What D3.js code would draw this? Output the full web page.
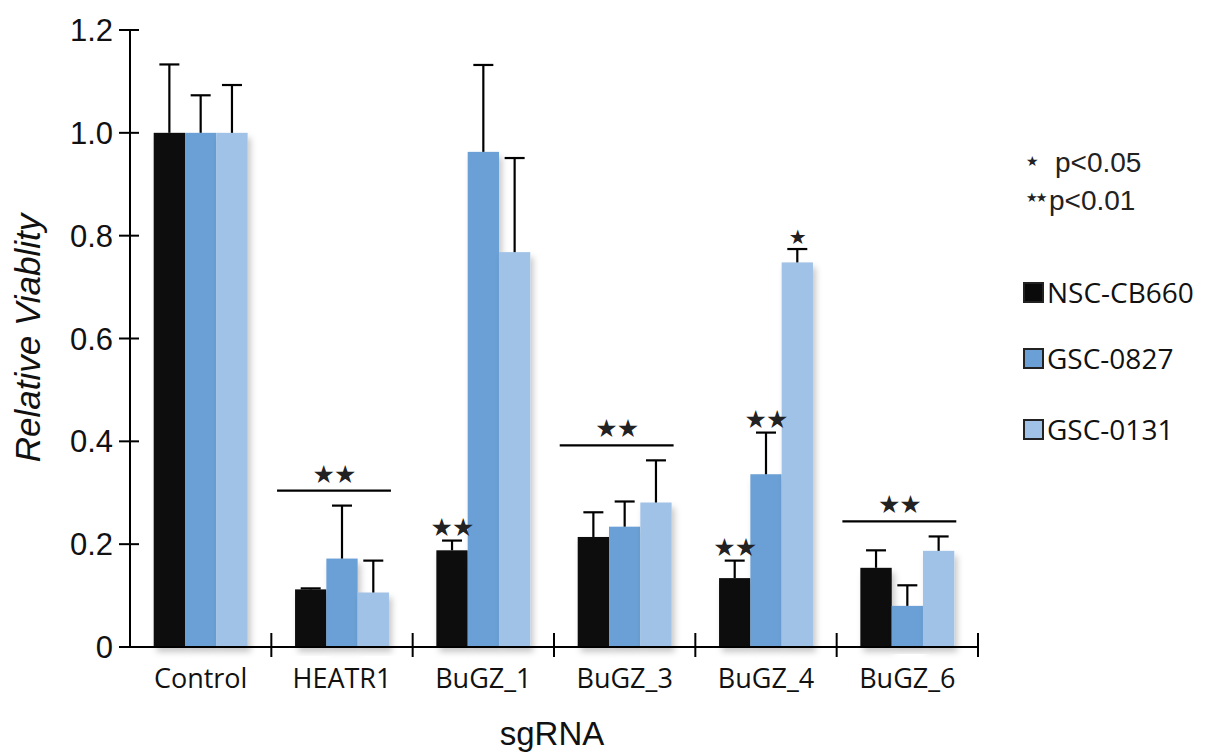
<!DOCTYPE html>
<html><head><meta charset="utf-8">
<script src="https://cdn.jsdelivr.net/npm/d3@7"></script>
<style>body{margin:0;background:#fff}svg{display:block}</style>
</head><body><svg id="c" width="1208" height="755"></svg>
<script>
const categories = ["Control","HEATR1","BuGZ_1","BuGZ_3","BuGZ_4","BuGZ_6"];
const seriesNames = ["NSC-CB660","GSC-0827","GSC-0131"];
const seriesColors = ["#0a0a0a","#6aa0d5","#a0c2e6"];
const valNSC  = [1.0, 0.112, 0.188, 0.214, 0.134, 0.154];
const valG0827 = [1.0, 0.172, 0.963, 0.234, 0.336, 0.080];
const valG0131 = [1.0, 0.106, 0.768, 0.281, 0.748, 0.187];
const errNSC  = [0.133, 0.002, 0.019, 0.048, 0.034, 0.034];
const errG0827 = [0.073, 0.103, 0.169, 0.049, 0.081, 0.040];
const errG0131 = [0.093, 0.062, 0.183, 0.082, 0.026, 0.028];
const yTicks = [0, 0.2, 0.4, 0.6, 0.8, 1.0, 1.2];
// group-wide significance (category index, stars)
const groupSig = [{cat:1, stars:"★★"}, {cat:3, stars:"★★"}, {cat:5, stars:"★★"}];
// single-bar significance (category, series, stars)
const barSig = [{cat:2, s:0, stars:"★★"}, {cat:4, s:0, stars:"★★"}, {cat:4, s:1, stars:"★★"}, {cat:4, s:2, stars:"★"}];

const values = [valNSC, valG0827, valG0131];
const errors = [errNSC, errG0827, errG0131];

const svg = d3.select("#c");
const defs = svg.append("defs");
const f = defs.append("filter").attr("id","sh").attr("x","-20%").attr("y","-5%").attr("width","150%").attr("height","120%");
f.append("feDropShadow").attr("dx",3).attr("dy",5).attr("stdDeviation",3).attr("flood-color","#000").attr("flood-opacity",0.22);

const x0 = 130, x1 = 978;
const y = d3.scaleLinear().domain([0,1.2]).range([647,30]);
const x = d3.scaleBand().domain(categories).range([x0,x1]).padding(0);
const barW = 31.3;
const xs = d3.scaleBand().domain(d3.range(3)).range([0, barW*3]);
const groupOff = (x.bandwidth() - barW*3)/2;

const bars = svg.append("g");
categories.forEach((c,ci)=>{
  seriesNames.forEach((s,si)=>{
    const bx = x(c)+groupOff+xs(si);
    const v = values[si][ci];
    bars.append("rect").attr("x",bx).attr("y",y(v)).attr("width",xs.bandwidth()).attr("height",y(0)-y(v))
      .attr("fill",seriesColors[si]).attr("filter","url(#sh)");
  });
});
// error bars
const eg = svg.append("g").attr("stroke","#000").attr("stroke-width",2.2);
categories.forEach((c,ci)=>{
  seriesNames.forEach((s,si)=>{
    const cx = x(c)+groupOff+xs(si)+xs.bandwidth()/2;
    const v = values[si][ci], e = errors[si][ci];
    eg.append("line").attr("x1",cx).attr("x2",cx).attr("y1",y(v)).attr("y2",y(v+e));
    eg.append("line").attr("x1",cx-10).attr("x2",cx+10).attr("y1",y(v+e)).attr("y2",y(v+e));
  });
});

// axes
const yAxis = svg.append("g");
yAxis.append("line").attr("x1",x0).attr("x2",x0).attr("y1",y(1.2)).attr("y2",y(0)).attr("stroke","#000").attr("stroke-width",2);
yTicks.forEach(t=>{
  yAxis.append("line").attr("x1",x0-11).attr("x2",x0+9).attr("y1",y(t)).attr("y2",y(t)).attr("stroke","#000").attr("stroke-width",2);
  yAxis.append("text").attr("x",x0-17).attr("y",y(t)).attr("dy","0.36em").attr("text-anchor","end")
    .attr("font-family","Liberation Sans, Arial, sans-serif").attr("font-size",31).attr("fill","#111")
    .text(t===0?"0":d3.format(".1f")(t));
});
const xAxis = svg.append("g");
xAxis.append("line").attr("x1",x0-11).attr("x2",x1).attr("y1",y(0)).attr("y2",y(0)).attr("stroke","#000").attr("stroke-width",2);
categories.forEach((c,ci)=>{
  xAxis.append("line").attr("x1",x(c)+x.bandwidth()).attr("x2",x(c)+x.bandwidth()).attr("y1",y(0)-14).attr("y2",y(0)+10).attr("stroke","#000").attr("stroke-width",2);
  xAxis.append("text").attr("x",x(c)+x.bandwidth()/2).attr("y",688).attr("text-anchor","middle")
    .attr("font-family","Open Sans, sans-serif").attr("font-size",27).attr("fill","#111").text(c);
});

// axis titles
svg.append("text").attr("transform","translate(40,338) rotate(-90)").attr("text-anchor","middle")
  .attr("font-family","Liberation Sans, Arial, sans-serif").attr("font-style","italic").attr("font-size",35).attr("fill","#111").text("Relative Viablity");
svg.append("text").attr("x",552).attr("y",745).attr("text-anchor","middle")
  .attr("font-family","Liberation Sans, Arial, sans-serif").attr("font-size",33).attr("fill","#111").text("sgRNA");

// significance
const sg = svg.append("g");
const starFont = "DejaVu Sans, sans-serif";
groupSig.forEach(g=>{
  const c = categories[g.cat];
  const maxTop = d3.max(d3.range(3), si=>values[si][g.cat]+errors[si][g.cat]);
  const ly = y(maxTop)-15;
  const lx1 = x(c)+groupOff-18, lx2 = x(c)+groupOff+barW*3+2;
  sg.append("line").attr("x1",lx1).attr("x2",lx2).attr("y1",ly).attr("y2",ly).attr("stroke","#000").attr("stroke-width",2.2);
  sg.append("text").attr("x",(lx1+lx2)/2).attr("y",ly-8).attr("text-anchor","middle")
    .attr("font-family",starFont).attr("font-size",25).attr("fill","#222").attr("letter-spacing",-1).text(g.stars);
});
barSig.forEach(b=>{
  const c = categories[b.cat];
  const cx = x(c)+groupOff+xs(b.s)+xs.bandwidth()/2;
  const top = values[b.s][b.cat]+errors[b.s][b.cat];
  sg.append("text").attr("x",cx).attr("y",y(top)-5).attr("text-anchor","middle")
    .attr("font-family",starFont).attr("font-size",b.stars.length>1?25:20).attr("fill","#222").attr("letter-spacing",-1).text(b.stars);
});

// legend
const lg = svg.append("g").attr("font-family","Liberation Sans, Arial, sans-serif").attr("fill","#222");
lg.append("text").attr("x",1026).attr("y",166).attr("font-size",14).attr("font-family",starFont).text("★");
lg.append("text").attr("x",1055).attr("y",172).attr("font-size",28).text("p<0.05");
lg.append("text").attr("x",1026).attr("y",202).attr("font-size",13).attr("font-family",starFont).attr("letter-spacing",-2).text("★★");
lg.append("text").attr("x",1049).attr("y",210).attr("font-size",28).text("p<0.01");
const legY = [293, 359, 430];
seriesNames.forEach((s,i)=>{
  lg.append("rect").attr("x",1024).attr("y",legY[i]-10).attr("width",19).attr("height",19)
    .attr("fill",seriesColors[i]).attr("stroke","#222").attr("stroke-width",2);
  lg.append("text").attr("x",1047).attr("y",legY[i]).attr("dy","0.36em").attr("font-family","Open Sans, sans-serif").attr("font-size",28).attr("fill","#111").text(s);
});
</script></body></html>
